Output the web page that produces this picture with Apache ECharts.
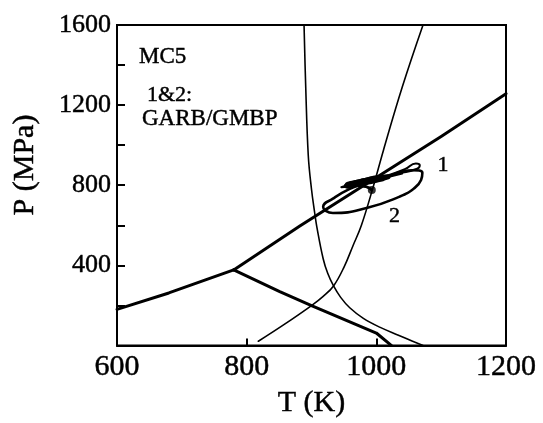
<!DOCTYPE html>
<html>
<head>
<meta charset="utf-8">
<script src="https://cdn.jsdelivr.net/npm/echarts@6/dist/echarts.min.js"></script>
<style>
  html, body { margin: 0; padding: 0; background: #fff; }
  #chart { width: 543px; height: 423px; }
</style>
</head>
<body>
<div id="chart"></div>
<script>
// Axis settings
const tRange = [600, 1200];
const pRange = [0, 1600];
const tStep = 200;
const pStep = 200;

// Phase boundary (thick): low-T branch, high-T branch, and branch running down from the triple point
const boundaryLow = [[600, 180], [680, 262], [780, 377]];
const boundaryHigh = [[780, 377], [882, 596], [1000, 838], [1100, 1043], [1200, 1257]];
const boundaryDown = [[780, 377], [851, 269], [900, 199], [1000, 62], [1023, 0]];

// Thin curves
const curveA = [[888.5, 1600], [891, 1300], [895, 950], [900, 780], [905, 660], [908, 596],
  [918, 433], [925, 360], [934, 297], [945, 240], [959, 188], [980, 135], [1006, 90],
  [1035, 50], [1055, 22], [1072, 0]];
const curveB = [[818, 21], [858, 105], [900, 199], [918, 245], [934, 297], [950, 390],
  [964, 498], [977, 600], [995, 790], [1011, 975], [1040, 1290], [1072, 1600]];

// Trajectory 1 (narrow loop along the boundary)
const traj1 = [[993, 776], [980, 795], [962, 800], [975, 808], [1005, 835], [1044, 880],
  [1061, 909], [1067, 900], [1063, 882], [1036, 860], [998, 836], [962, 808], [946, 790],
  [955, 792], [985, 815], [1015, 838], [1040, 858]];

// Trajectory 2 (wide ellipse)
const traj2 = [[993, 776], [985, 792], [968, 800], [958, 796], [972, 806], [995, 822],
  [1015, 840], [1005, 843], [980, 828], [958, 810], [952, 800], [970, 805], [1010, 836],
  [1056, 875], [1071, 862], [1069, 826], [1058, 784], [1036, 743], [985, 686], [933, 661],
  [921, 674], [918, 692], [933, 733], [959, 782], [985, 812], [1010, 832]];

// Dense inner turns shared by both trajectories
const core = [[955, 795], [975, 808], [1000, 825], [1018, 842], [1000, 835], [975, 818],
  [955, 802], [962, 800], [985, 815], [1010, 832]];

// Starting point of the trajectories
const startPoint = [[993, 776]];

// Curve labels
const curveLabelText = ['1', '2'];
const curveLabelPos = [[1103, 899], [1028, 645]];

// Y tick labels shown every 400 MPa
const pLabels = [400, 800, 1200, 1600];

const serif = '"Liberation Serif", "DejaVu Serif", "Times New Roman", serif';
const ink = { textBorderColor: '#000', textBorderWidth: 0.45 };

const chart = echarts.init(document.getElementById('chart'), null, { renderer: 'canvas' });

function lineSeries(name, data, width, smooth) {
  return {
    name: name,
    type: 'line',
    data: data,
    showSymbol: false,
    symbol: 'none',
    smooth: smooth,
    lineStyle: { color: '#000', width: width, cap: 'round', join: 'round' },
    silent: true,
    z: 3
  };
}

function textEl(text, x, y, size, align, rotation) {
  return {
    type: 'text', x: x, y: y, rotation: rotation || 0,
    style: {
      text: text, font: size + 'px ' + serif, fill: '#000',
      align: align || 'center', verticalAlign: 'middle',
      stroke: '#000', lineWidth: 0.45
    }
  };
}

chart.setOption({
  animation: false,
  backgroundColor: '#fff',
  grid: {
    left: 117, right: 37, top: 25, bottom: 71.3,
    show: true, borderColor: '#000', borderWidth: 2, backgroundColor: 'transparent'
  },
  xAxis: {
    type: 'value',
    min: tRange[0], max: tRange[1], interval: tStep,
    name: 'T (K)',
    nameLocation: 'middle',
    nameGap: 37,
    nameTextStyle: Object.assign({ fontFamily: serif, fontSize: 30, color: '#000' }, ink),
    axisLine: { show: true, lineStyle: { color: '#000', width: 2 } },
    axisTick: { show: true, inside: true, length: 7, lineStyle: { color: '#000', width: 2 } },
    axisLabel: Object.assign({
      fontFamily: serif, fontSize: 30, color: '#000', margin: 7,
      formatter: function (v) { return String(v); }
    }, ink),
    splitLine: { show: false }
  },
  yAxis: {
    type: 'value',
    min: pRange[0], max: pRange[1], interval: pStep,
    axisLine: { show: true, lineStyle: { color: '#000', width: 2 } },
    axisTick: { show: true, inside: true, length: 8, lineStyle: { color: '#000', width: 2 } },
    axisLabel: Object.assign({
      fontFamily: serif, fontSize: 26, color: '#000', margin: 6,
      formatter: function (v) { return pLabels.indexOf(v) >= 0 ? String(v) : ''; }
    }, ink),
    splitLine: { show: false }
  },
  series: [
    lineSeries('boundaryLow', boundaryLow, 3, false),
    lineSeries('boundaryHigh', boundaryHigh, 3, false),
    lineSeries('boundaryDown', boundaryDown, 3, false),
    lineSeries('curveA', curveA, 1.6, 0.4),
    lineSeries('curveB', curveB, 1.6, 0.4),
    lineSeries('traj1', traj1, 2, true),
    lineSeries('traj2', traj2, 2.6, true),
    lineSeries('core', core, 5, true),
    {
      name: 'start', type: 'scatter', data: startPoint, symbol: 'circle', symbolSize: 8,
      itemStyle: { color: '#000' }, silent: true, z: 4
    }
  ]
});

// Static text: axis title, run annotation, and curve numbers placed through the axes
const graphics = [
  textEl('P (MPa)', 25, 165, 30, 'center', Math.PI / 2),
  textEl('MC5', 139, 57, 23, 'left'),
  textEl('1&2:', 147, 95, 22, 'left'),
  textEl('GARB/GMBP', 142, 119, 23, 'left')
];
curveLabelText.forEach(function (t, i) {
  const p = chart.convertToPixel({ gridIndex: 0 }, curveLabelPos[i]);
  graphics.push(textEl(t, p[0], p[1], 22));
});
chart.setOption({ graphic: graphics });
</script>
</body>
</html>
